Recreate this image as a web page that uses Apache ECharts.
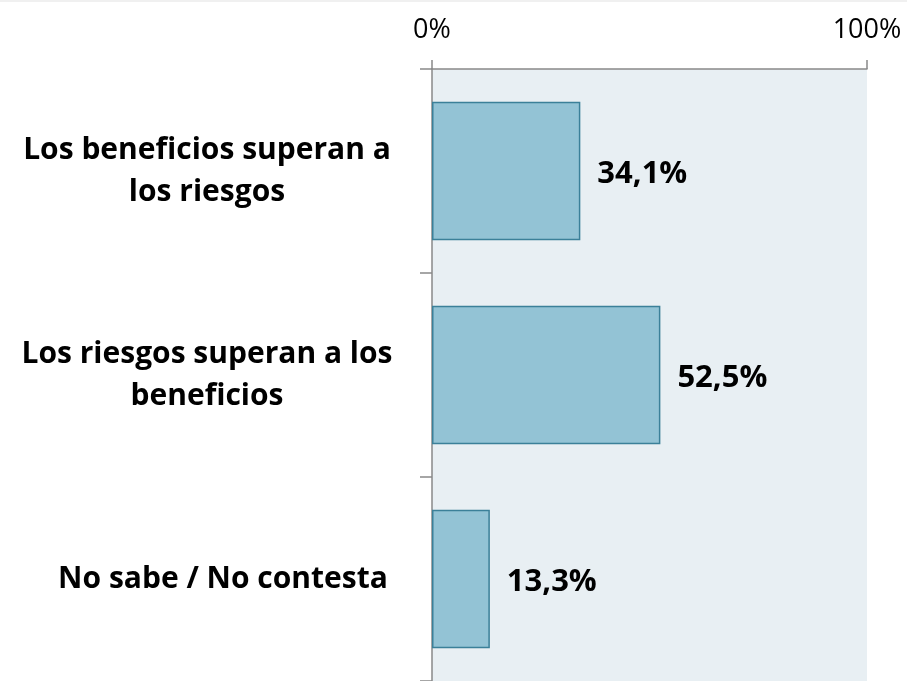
<!DOCTYPE html>
<html>
<head>
<meta charset="utf-8">
<script src="https://cdn.jsdelivr.net/npm/echarts@6/dist/echarts.min.js"></script>
<style>
html,body{margin:0;padding:0;background:#fff;}
#chart{width:907px;height:681px;}
</style>
</head>
<body>
<div id="chart"></div>
<script>
const categories = [
  "Los beneficios superan a\nlos riesgos",
  "Los riesgos superan a los\nbeneficios",
  "No sabe / No contesta"
];
const values = [34.1, 52.5, 13.3];
const valueLabels = ["34,1%", "52,5%", "13,3%"];
const tickLabels = { 0: "0%", 100: "100%" };

const FONT = 'Open Sans';
const chart = echarts.init(document.getElementById('chart'));
chart.setOption({
  animation: false,
  graphic: [{ type: 'rect', shape: { x: 0, y: 0, width: 907, height: 2 }, style: { fill: '#f0f0f0' } }],
  grid: { left: 432, right: 40, top: 69, bottom: -5, show: true, backgroundColor: '#e8eff3', borderWidth: 0 },
  xAxis: {
    type: 'value', position: 'top', min: 0, max: 100, interval: 100,
    axisLine: { show: true, lineStyle: { color: '#898989', width: 1.5 } },
    axisTick: { show: true, length: 9, lineStyle: { color: '#898989', width: 1.5 } },
    splitLine: { show: false },
    axisLabel: {
      margin: 25, fontFamily: FONT, fontSize: 27, color: '#000',
      formatter: v => tickLabels[v] !== undefined ? tickLabels[v] : ''
    }
  },
  yAxis: {
    type: 'category', inverse: true, data: categories,
    axisLine: { show: true, lineStyle: { color: '#898989', width: 1.5 } },
    axisTick: { show: true, length: 12, lineStyle: { color: '#898989', width: 1.5 } },
    axisLabel: {
      margin: 225, align: 'center', fontFamily: FONT, fontWeight: 'bold', fontSize: 30,
      lineHeight: 42, color: '#000',
      formatter: v => v.indexOf('\n') >= 0 ? v : '{s|' + v + '}',
      rich: { s: { fontFamily: FONT, fontWeight: 'bold', fontSize: 30, color: '#000', padding: [0, 0, 0, 32] } }
    }
  },
  series: [{
    type: 'bar', data: values, barCategoryGap: '32%',
    itemStyle: { color: '#93c3d5', borderColor: '#3b8099', borderWidth: 1.5 },
    label: {
      show: true, position: 'right', distance: 17, offset: [0, 3], fontFamily: FONT, fontWeight: 'bold',
      fontSize: 31, color: '#000',
      formatter: p => valueLabels[p.dataIndex]
    }
  }]
});
</script>
</body>
</html>
